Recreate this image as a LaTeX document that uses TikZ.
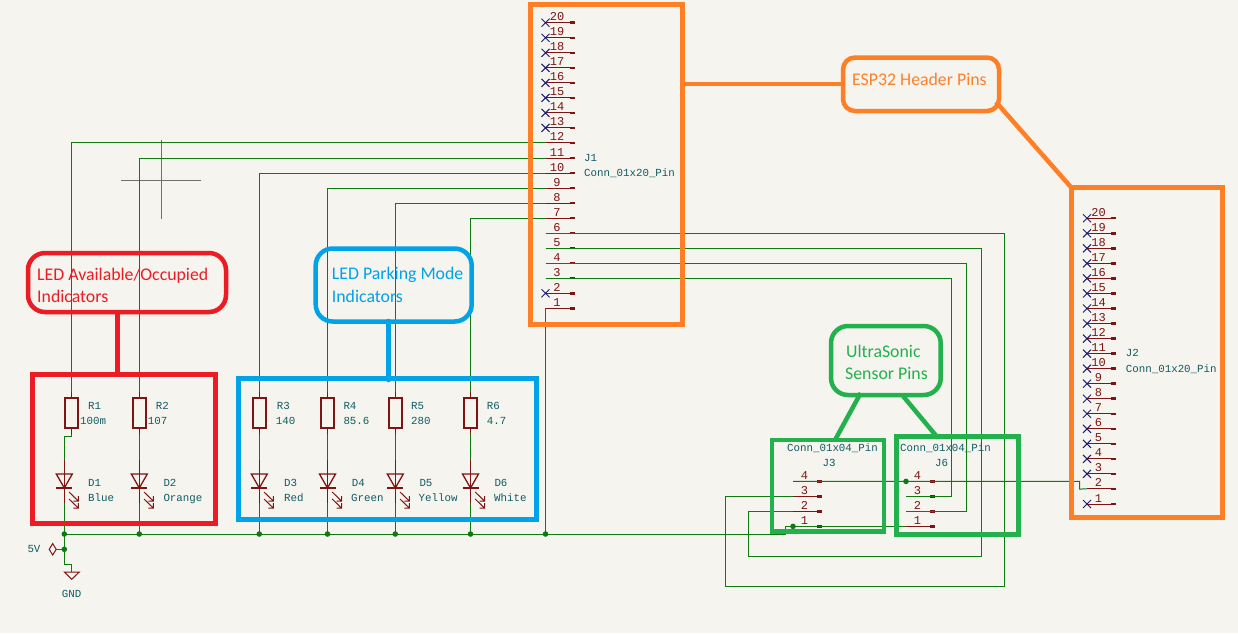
\documentclass[tikz,border=0pt]{standalone}
\usepackage{fontspec}
\setmainfont{Carlito}
\newfontfamily\kifont{Liberation Mono}
\definecolor{bgc}{HTML}{F5F4EF}
\definecolor{wirec}{HTML}{0F7A0F}
\definecolor{pinc}{HTML}{7E1414}
\definecolor{refc}{HTML}{0F5C62}
\definecolor{ncc}{HTML}{1C1C72}
\definecolor{orangec}{HTML}{FF7F27}
\definecolor{redc}{HTML}{ED1C24}
\definecolor{bluec}{HTML}{00A2E8}
\definecolor{greenc}{HTML}{22B14C}
\definecolor{crossc}{HTML}{707070}
\tikzset{
  wire/.style={draw=wirec,line width=1pt},
  pinline/.style={draw=pinc,line width=1pt},
  kt/.style={font=\kifont\fontsize{10.8}{12}\selectfont,text=refc,inner sep=0pt,text height=7pt,text depth=0pt},
  ktw/.style={kt,anchor=west},
  pt/.style={font=\kifont\fontsize{12}{12}\selectfont,text=pinc,inner sep=0pt,anchor=base},
  dotj/.style={circle,fill=wirec,draw=none,minimum size=5.6pt,inner sep=0pt},
  res/.style={rectangle,draw=pinc,fill=bgc,line width=1.4pt,minimum width=13pt,minimum height=30pt,inner sep=0pt},
  frame/.style={line width=5pt,fill=none},
  pill/.style={line width=4.5pt,rounded corners=17pt,fill=none},
  note/.style={font=\fontsize{17.8}{20}\selectfont,inner sep=0pt,anchor=west,text height=11pt,text depth=0pt},
}
\newcommand{\kpin}[5]{%
  \coordinate (#1s#2) at (#3,#4);
  \coordinate (#1e#2) at (#3+29,#4);
  \draw[pinline] (#1s#2) -- (#1e#2);
  \draw[draw=pinc,line width=2.5pt] (#3+24,#4) -- (#1e#2);
  \node[pt] (#1n#2) at (#3+11.5,#4-2) {#2};
  \ifnum#5=1
    \draw[draw=ncc,line width=1pt] (#3-4,#4-4) -- (#3+4,#4+4) (#3-4,#4+4) -- (#3+4,#4-4);
  \fi
}
\newcommand{\kled}[2]{%
  \coordinate (#1a) at (#2,460);
  \coordinate (#1k) at (#2,503);
  \draw[pinline] (#1a) -- (#2,488) -- (#1k);
  \draw[draw=pinc,line width=1.3pt,line join=miter] (#2-8,474) -- (#2+8,474) -- (#2,488) -- cycle;
  \draw[draw=pinc,line width=1.3pt] (#2-8,488) -- (#2+8,488);
  \draw[draw=pinc,line width=1pt] (#2+4.7,492) -- (#2+14,501) (#2+9,501) -- (#2+14,501) -- (#2+14,496);
  \draw[draw=pinc,line width=1pt] (#2+4.7,499) -- (#2+14,508) (#2+9,508) -- (#2+14,508) -- (#2+14,503);
}
\newcommand{\kres}[2]{%
  \node[res] (#1) at (#2,413) {};
}
\newcommand{\kleads}[1]{%
  \draw[pinline] (#1.north) -- ++(0,-5.5);
  \draw[pinline] (#1.south) -- ++(0,5.5);
}
\begin{document}
\begin{tikzpicture}[x=1pt,y=-1pt]
\useasboundingbox (0,0) rectangle (1238,633);
\fill[bgc] (0,0) rectangle (1238,633);

% cursor
\coordinate (cxa) at (161.3,140);
\coordinate (cxb) at (161.3,219);
\coordinate (cya) at (121,180.5);
\coordinate (cyb) at (200.7,180.5);
\draw[crossc,line width=1pt] (cxa) -- (cxb) (cya) -- (cyb);

% connector pins
\foreach \n in {1,...,20}{
  \pgfmathsetmacro{\yy}{308.3-(\n-1)*15.03}
  \pgfmathtruncatemacro{\nc}{(\n==2 || \n>12) ? 1 : 0}
  \kpin{Ja}{\n}{545.5}{\yy}{\nc}
}
\foreach \n in {1,...,20}{
  \pgfmathsetmacro{\yy}{504-(\n-1)*15.04}
  \pgfmathtruncatemacro{\nc}{(\n==2) ? 0 : 1}
  \kpin{Jb}{\n}{1087}{\yy}{\nc}
}
\foreach \n in {1,...,4}{
  \pgfmathsetmacro{\yy}{526.4-(\n-1)*15}
  \kpin{Jc}{\n}{793}{\yy}{0}
  \kpin{Jd}{\n}{906}{\yy}{0}
}

% junctions
\node[dotj] (ja) at (64.3,534) {};
\node[dotj] (jb) at (139.3,534) {};
\node[dotj] (jc) at (259.3,534) {};
\node[dotj] (jd) at (327.5,534) {};
\node[dotj] (je) at (395.3,534) {};
\node[dotj] (jf) at (470.5,534) {};
\node[dotj] (jg) at (545.5,534) {};
\node[dotj] (jv) at (64.3,549.3) {};
\node[dotj] (jh) at (793,526.4) {};
\node[dotj] (ji) at (906,481.4) {};

% components
\kres{R1}{71.3}
\kres{R2}{139.3}
\kres{R3}{259.3}
\kres{R4}{327.5}
\kres{R5}{395.3}
\kres{R6}{470.5}

% wire corner points
\coordinate (busa) at (785,534);
\coordinate (busb) at (785,526.4);
\coordinate (r1a) at (71.3,436);
\coordinate (r1b) at (64.3,436);
\coordinate (gndj) at (64.3,564);
\coordinate (gndk) at (71.7,564);
\coordinate (gndt) at (71.7,572);
\coordinate (vend) at (56.2,549.3);
\coordinate (sixa) at (1004.5,586);
\coordinate (sixb) at (725.3,586);
\coordinate (fivea) at (981.7,556);
\coordinate (fiveb) at (748.7,556);
\coordinate (foura) at (966.7,300);
\coordinate (threea) at (951.7,300);
\coordinate (jt) at (1079.6,481.4);
\coordinate (ju) at (1079.6,489);

% wires
\draw[wire] (Jas12) -| (R1.north);
\draw[wire] (Jas11) -| (R2.north);
\draw[wire] (Jas10) -| (R3.north);
\draw[wire] (Jas9) -| (R4.north);
\draw[wire] (Jas8) -| (R5.north);
\draw[wire] (Jas7) -| (R6.north);
\draw[wire] (R1.south) -- (r1a) -- (r1b) -- (ja.center) -- (jv.center) -- (gndj) -- (gndk) -- (gndt);
\draw[wire] (jv.center) -- (vend);
\draw[wire] (R2.south) -- (jb.center);
\draw[wire] (R3.south) -- (jc.center);
\draw[wire] (R4.south) -- (jd.center);
\draw[wire] (R5.south) -- (je.center);
\draw[wire] (R6.south) -- (jf.center);
\draw[wire] (Jas1) -- (jg.center);
\draw[wire] (ja.center) -- (busa) -- (busb) -- (jh.center) -- (Jds1);
\draw[wire] (Jas6) -- (Jas6 -| sixa) -- (sixa) -- (sixb) -- (sixb |- Jcs3) -- (Jcs3);
\draw[wire] (Jas5) -- (Jas5 -| fivea) -- (fivea) -- (fiveb) -- (fiveb |- Jcs2) -- (Jcs2);
\draw[wire] (Jas4) -- (Jas4 -| foura) -- (foura |- Jds2) -- (Jds2);
\draw[wire] (Jas3) -- (Jas3 -| threea) -- (threea |- Jds3) -- (Jds3);
\draw[wire] (Jcs4) -- (jt) -- (ju) -- (Jbs2);

% maroon leads over the wires
\kleads{R1}
\kleads{R2}
\kleads{R3}
\kleads{R4}
\kleads{R5}
\kleads{R6}
\kled{Da}{64.3}
\kled{Db}{139.3}
\kled{Dc}{259.3}
\kled{Dd}{327.5}
\kled{De}{395.3}
\kled{Df}{470.5}

% power symbols
\draw[draw=pinc,line width=1pt] (49.2,549.3) -- (52.7,543.6) -- (56.2,549.3) -- (52.7,555) -- cycle;
\draw[draw=pinc,line width=1pt] (64.3,572) -- (79.3,572) -- (71.7,579.3) -- cycle;
\node[kt] (vlabel) at (34,549) {5V};
\node[kt] (glabel) at (71.7,594) {GND};

% component texts
\node[ktw] (lr1) at (88,406) {R1};
\node[ktw] (vr1) at (80,421) {100m};
\node[ktw] (lr2) at (155.7,406) {R2};
\node[ktw] (vr2) at (147.7,421) {107};
\node[ktw] (lr3) at (276.7,406) {R3};
\node[ktw] (vr3) at (275.7,421) {140};
\node[ktw] (lr4) at (343.3,406) {R4};
\node[ktw] (vr4) at (343.3,421) {85.6};
\node[ktw] (lr5) at (411,406) {R5};
\node[ktw] (vr5) at (411,421) {280};
\node[ktw] (lr6) at (486.7,406) {R6};
\node[ktw] (vr6) at (486.7,421) {4.7};
\node[ktw] (ld1) at (88,483) {D1};
\node[ktw] (vd1) at (88,498) {Blue};
\node[ktw] (ld2) at (163.3,483) {D2};
\node[ktw] (vd2) at (163.3,498) {Orange};
\node[ktw] (ld3) at (284,483) {D3};
\node[ktw] (vd3) at (284,498) {Red};
\node[ktw] (ld4) at (351.7,483) {D4};
\node[ktw] (vd4) at (351,498) {Green};
\node[ktw] (ld5) at (419.3,483) {D5};
\node[ktw] (vd5) at (418.5,498) {Yellow};
\node[ktw] (ld6) at (494.3,483) {D6};
\node[ktw] (vd6) at (494,498) {White};
\node[ktw] (lj1) at (584,158) {J1};
\node[ktw] (vj1) at (584,173) {Conn\_01x20\_Pin};
\node[ktw] (lj2) at (1125.7,353) {J2};
\node[ktw] (vj2) at (1125.7,369) {Conn\_01x20\_Pin};
\node[kt] (vj3) at (832.5,448) {Conn\_01x04\_Pin};
\node[kt] (lj3) at (829,463) {J3};
\node[kt] (vj6) at (945.5,448) {Conn\_01x04\_Pin};
\node[kt] (lj6) at (941.7,463) {J6};

% annotation frames
\coordinate (esa) at (682,84);
\coordinate (esb) at (996,102);
\coordinate (esc) at (1071.7,188);
\coordinate (esd) at (844,84);
\draw[orangec,frame] (530,4.5) rectangle (682,324);
\draw[orangec,frame] (1071,187) rectangle (1222.5,517);
\draw[orangec,pill,rounded corners=12pt] (843,57.5) rectangle (999,111);
\draw[orangec,line width=4.5pt] (esa) -- (esd);
\draw[orangec,line width=4.5pt] (esb) -- (esc);
\node[note,text=orangec] (tes) at (852,79.5) {ESP32 Header Pins};

\draw[redc,frame] (32.7,374) rectangle (215,523);
\draw[redc,pill] (28,253) rectangle (226,312);
\coordinate (rla) at (117.5,311);
\coordinate (rlb) at (117.5,374);
\draw[redc,line width=4.5pt] (rla) -- (rlb);
\node[note,text=redc] (tra) at (37,275) {LED Available/Occupied};
\node[note,text=redc] (trb) at (37,297) {Indicators};

\draw[bluec,frame] (238,378) rectangle (536.7,519);
\draw[bluec,pill] (315.7,248.5) rectangle (471.7,321.5);
\coordinate (bla) at (388.5,321);
\coordinate (blb) at (388.5,380);
\draw[bluec,line width=4.5pt,line cap=round] (bla) -- (blb);
\node[note,text=bluec] (tba) at (331.7,274) {LED Parking Mode};
\node[note,text=bluec] (tbb) at (331.7,297) {Indicators};

\draw[greenc,line width=4.5pt] (772,440) rectangle (884,531.5);
\draw[greenc,frame] (896,436) rectangle (1018,534);
\draw[greenc,pill] (831,326) rectangle (940.7,395);
\coordinate (gla) at (860.7,393);
\coordinate (glb) at (835,440);
\coordinate (gra) at (903,396);
\coordinate (grb) at (938,438);
\draw[greenc,line width=4.5pt] (gla) -- (glb);
\draw[greenc,line width=4.5pt] (gra) -- (grb);
\node[note,text=greenc] (tga) at (846,351.5) {UltraSonic};
\node[note,text=greenc] (tgb) at (845,373.5) {Sensor Pins};
\end{tikzpicture}
\end{document}
